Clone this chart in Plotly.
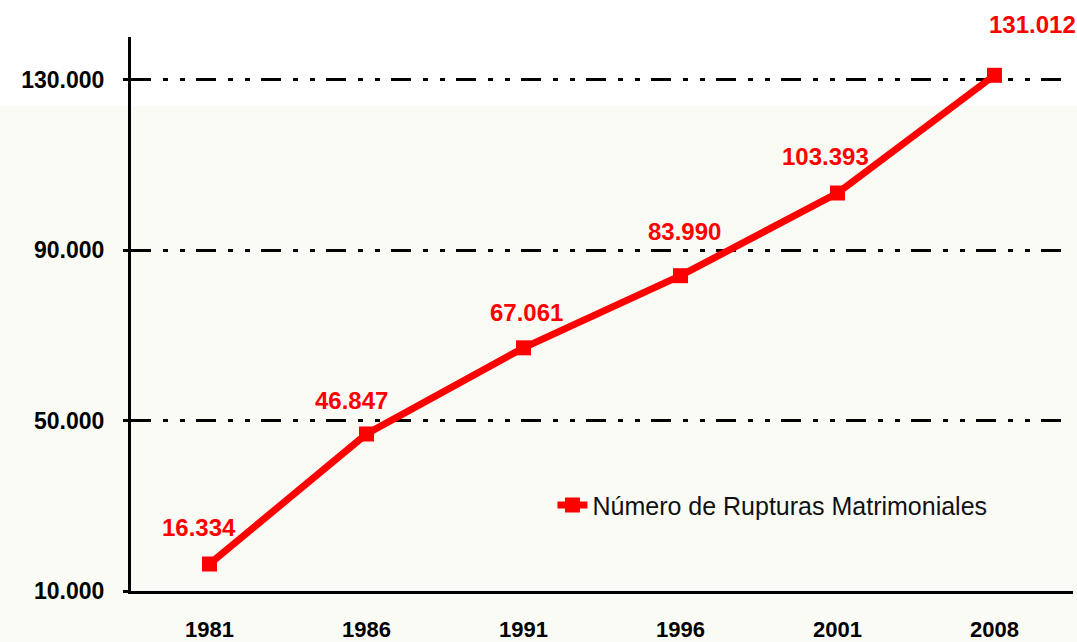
import plotly.graph_objects as go

years = ["1981", "1986", "1991", "1996", "2001", "2008"]
rupturas = [16334, 46847, 67061, 83990, 103393, 131012]
labels = ["16.334", "46.847", "67.061", "83.990", "103.393", "131.012"]
y_ticks = [10000, 50000, 90000, 130000]
y_tick_labels = ["10.000", "50.000", "90.000", "130.000"]
series_name = "Número de Rupturas Matrimoniales"

# label offsets (px) relative to each point
label_dx = [-11, -15, 3, 4, -12, 38]
label_dy = [37, 33, 35, 44, 37, 51]

RED = "#FF0000"
FONT = "Liberation Sans"

fig = go.Figure()
fig.add_trace(go.Scatter(
    x=years, y=rupturas, name=series_name, mode="lines+markers",
    line=dict(color=RED, width=7),
    marker=dict(symbol="square", size=15, color=RED),
    cliponaxis=False,
))

for i, (yv, t, dx, dy) in enumerate(zip(rupturas, labels, label_dx, label_dy)):
    fig.add_annotation(x=i, y=yv, xref="x", yref="y", text="<b>%s</b>" % t,
                       showarrow=False, xshift=dx, yshift=dy,
                       xanchor="center", yanchor="middle",
                       font=dict(family=FONT, size=24, color=RED))

# light cream background band
fig.add_shape(type="rect", xref="paper", yref="paper",
              x0=-0.2, x1=1.1, y0=-0.2, y1=(591 - 106) / 554,
              fillcolor="#FBFBF6", line=dict(width=0), layer="below")

fig.update_layout(
    width=1077, height=642,
    margin=dict(l=131, r=4, t=37, b=51, autoexpand=False),
    paper_bgcolor="white", plot_bgcolor="rgba(0,0,0,0)",
    font=dict(family=FONT, color="black"),
    showlegend=True,
    legend=dict(x=0.4474, y=0.155, xanchor="left", yanchor="middle",
                bgcolor="rgba(0,0,0,0)",
                font=dict(family=FONT, size=25, color="#111111")),
)

fig.update_xaxes(
    type="category", range=[-0.5, 5.5], automargin=False,
    showline=True, linecolor="black", linewidth=3,
    showgrid=False, ticks="", ticklabelstandoff=17,
    tickfont=dict(family=FONT, size=22, color="black", weight="bold"),
)
fig.update_yaxes(
    range=[10000, 140000], tickvals=y_ticks, ticktext=y_tick_labels,
    automargin=False,
    showline=True, linecolor="black", linewidth=3,
    showgrid=True, gridcolor="black", gridwidth=2.5,
    griddash="20px,12px,5px,12px,5px,11px",
    zeroline=False, ticks="outside", ticklen=5, tickwidth=3, tickcolor="black",
    ticklabelstandoff=14,
    tickfont=dict(family=FONT, size=23, color="black", weight="bold"),
)

fig.write_html("out.html",
               config={"displayModeBar": False},
               post_script="document.body.style.margin='0';document.body.style.overflow='hidden';")
